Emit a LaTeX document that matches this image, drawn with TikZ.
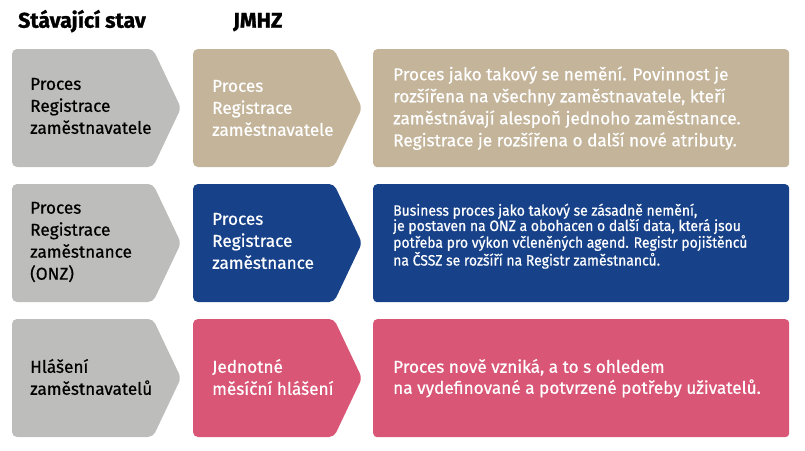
\documentclass[tikz,border=0pt]{standalone}
\usepackage{fontspec}
\setmainfont{Fira Sans}[FakeBold=0.6, BoldFeatures={FakeBold=1.2}]
\newfontfamily\narrowfont{Fira Sans}[FakeBold=0.6, FakeStretch=0.93]
\definecolor{stavgray}{HTML}{BDBEBB}
\definecolor{jmhztan}{HTML}{C4B49A}
\definecolor{jmhzblue}{HTML}{17428A}
\definecolor{jmhzpink}{HTML}{DA5676}
% chevron: left x, top y, colour
\newcommand{\chevronbox}[3]{%
  \fill[#3, rounded corners=5pt] (#1,#2) -- ++(141,0) -- ++(28,59)
    -- ++(-28,59) -- ++(-141,0) -- cycle;}
\newcommand{\bodysize}[0]{\fontsize{17.2}{22}\selectfont}

\begin{document}
\begin{tikzpicture}[x=1pt, y=-1pt]
  \tikzset{every node/.style={inner sep=0pt, align=left},
    header/.style={anchor=base west, font=\fontsize{21.3}{24}\selectfont\bfseries},
    steptext/.style={anchor=west, font=\bodysize},
    notebox/.style={rectangle, rounded corners=4pt, minimum width=416pt,
      minimum height=118pt, anchor=north west},
    notetext/.style={anchor=west, text=white, font=\bodysize}}
  \useasboundingbox (0,0) rectangle (805,450);
  \node[header] (hstav) at (18,27.7) {Stávající stav};
  \node[header] (hjmhz) at (233,27.7) {JMHZ};
  % row 1
  \chevronbox{12}{49}{stavgray}
  \chevronbox{193}{49}{jmhztan}
  \node[steptext] (stav1) at (30,106) {Proces\\Registrace\\zaměstnavatele};
  \node[steptext, text=white] (jmhz1) at (212,108) {Proces\\Registrace\\zaměstnavatele};
  \node[notebox, fill=jmhztan] (note1) at (373,49) {};
  \node[notetext] (text1) at ([xshift=20pt]note1.west)
    {Proces jako takový se nemění. Povinnost je\\
     rozšířena na všechny zaměstnavatele, kteří\\
     zaměstnávají alespoň jednoho zaměstnance.\\
     Registrace je rozšířena o další nové atributy.};
  % row 2
  \chevronbox{12}{184}{stavgray}
  \chevronbox{193}{184}{jmhzblue}
  \node[steptext] (stav2) at (30,242) {Proces\\Registrace\\zaměstnance\\(ONZ)};
  \node[steptext, text=white] (jmhz2) at (212,241) {Proces\\Registrace\\zaměstnance};
  \node[notebox, fill=jmhzblue] (note2) at (373,184) {};
  \node[notetext, font=\narrowfont\fontsize{15}{15.3}\selectfont] (text2)
    at ([xshift=20pt, yshift=7pt]note2.west)
    {Business proces jako takový se zásadně nemění,\\
     je postaven na ONZ a obohacen o další data, která jsou\\
     potřeba pro výkon včleněných agend. Registr pojištěnců\\
     na ČSSZ se rozšíří na Registr zaměstnanců.};
  % row 3
  \chevronbox{12}{319}{stavgray}
  \chevronbox{193}{319}{jmhzpink}
  \node[steptext] (stav3) at (30,377) {Hlášení\\zaměstnavatelů};
  \node[steptext, text=white] (jmhz3) at (212,377) {Jednotné\\měsíční hlášení};
  \node[notebox, fill=jmhzpink] (note3) at (373,319) {};
  \node[notetext, font=\fontsize{17.2}{21}\selectfont] (text3) at ([xshift=20pt]note3.west)
    {Proces nově vzniká, a to s ohledem\\
     na vydefinované a potvrzené potřeby uživatelů.};
\end{tikzpicture}
\end{document}
